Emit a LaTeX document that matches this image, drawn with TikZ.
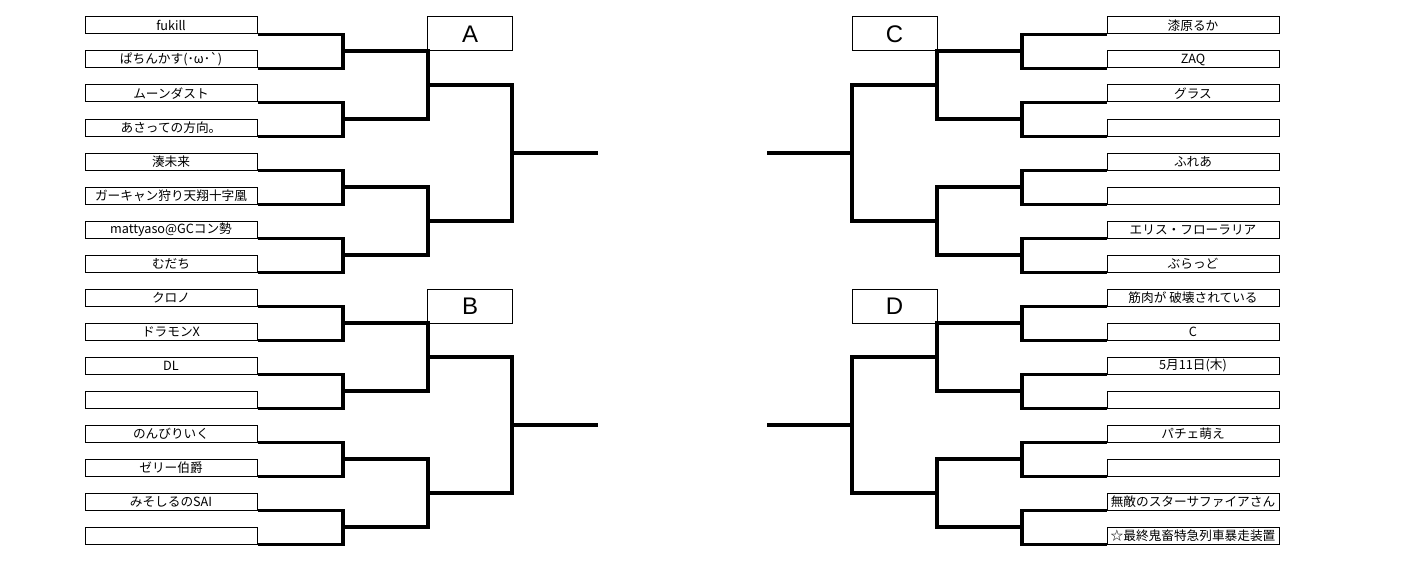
\documentclass[tikz,border=0pt]{standalone}
\usepackage{fontspec}
\newfontfamily\jp{Noto Sans CJK JP}
\newfontfamily\lat{Liberation Sans}
\tikzset{
  player/.style={draw, line width=0.75pt, minimum width=129pt, minimum height=12.75pt,
    inner sep=0pt, font=\jp\fontsize{9.5}{10}\selectfont},
  group/.style={draw, line width=0.75pt, minimum width=63.75pt, minimum height=25.5pt,
    inner sep=0pt, font=\lat\fontsize{18}{20}\selectfont},
  bracket/.style={line width=2.6pt}
}
\begin{document}
\begin{tikzpicture}[x=0.75pt,y=-0.75pt]
    \useasboundingbox (0,0) rectangle (1410,567);

    % Entrants
    \foreach \who [count=\i] in {fukill,ぱちんかす(･ω･`),ムーンダスト,あさっての方向。,
      湊未来,ガーキャン狩り天翔十字凰,mattyaso@GCコン勢,むだち,
      クロノ,ドラモンX,DL,{},のんびりいく,ゼリー伯爵,みそしるのSAI,{}}
      \node[player] (L\i) at (171, 34*\i-8.5) {\who};
    \foreach \who [count=\i] in {漆原るか,ZAQ,グラス,{},ふれあ,{},エリス・フローラリア,ぶらっど,
      筋肉が 破壊されている,C,5月11日(木),{},パチェ萌え,{},無敵のスターサファイアさん,☆最終鬼畜特急列車暴走装置}
      \node[player] (R\i) at (1193, 34*\i-8.5) {\who};

    % Blocks
    \node[group] (A) at (470,34) {A};
    \node[group] (B) at (470,306) {B};
    \node[group] (C) at (894.5,34) {C};
    \node[group] (D) at (894.5,306) {D};

    % Round 1
    \foreach \j in {1,...,8} {
      \pgfmathtruncatemacro\a{2*\j-1}
      \pgfmathtruncatemacro\b{2*\j}
      \coordinate (LJ\j) at (343, 68*\j-17);
      \coordinate (RJ\j) at (1022, 68*\j-17);
      \draw[bracket] (L\a.south east) -| (LJ\j) |- (L\b.south east);
      \draw[bracket] (R\a.south west) -| (RJ\j) |- (R\b.south west);
    }
    % Round 2
    \foreach \k in {1,...,4} {
      \pgfmathtruncatemacro\a{2*\k-1}
      \pgfmathtruncatemacro\b{2*\k}
      \coordinate (LK\k) at (428, 136*\k-51);
      \coordinate (RK\k) at (937, 136*\k-51);
      \draw[bracket] (LJ\a) -| (LK\k) |- (LJ\b);
      \draw[bracket] (RJ\a) -| (RK\k) |- (RJ\b);
    }
    % Round 3 and exits
    \foreach \m in {1,2} {
      \pgfmathtruncatemacro\a{2*\m-1}
      \pgfmathtruncatemacro\b{2*\m}
      \coordinate (LM\m) at (512, 272*\m-119);
      \coordinate (RM\m) at (852, 272*\m-119);
      \coordinate (LE\m) at (598, 272*\m-119);
      \coordinate (RE\m) at (767, 272*\m-119);
      \draw[bracket] (LK\a) -| (LM\m) |- (LK\b);
      \draw[bracket] (RK\a) -| (RM\m) |- (RK\b);
      \draw[bracket] (LM\m) -- (LE\m);
      \draw[bracket] (RM\m) -- (RE\m);
    }
\end{tikzpicture}
\end{document}
